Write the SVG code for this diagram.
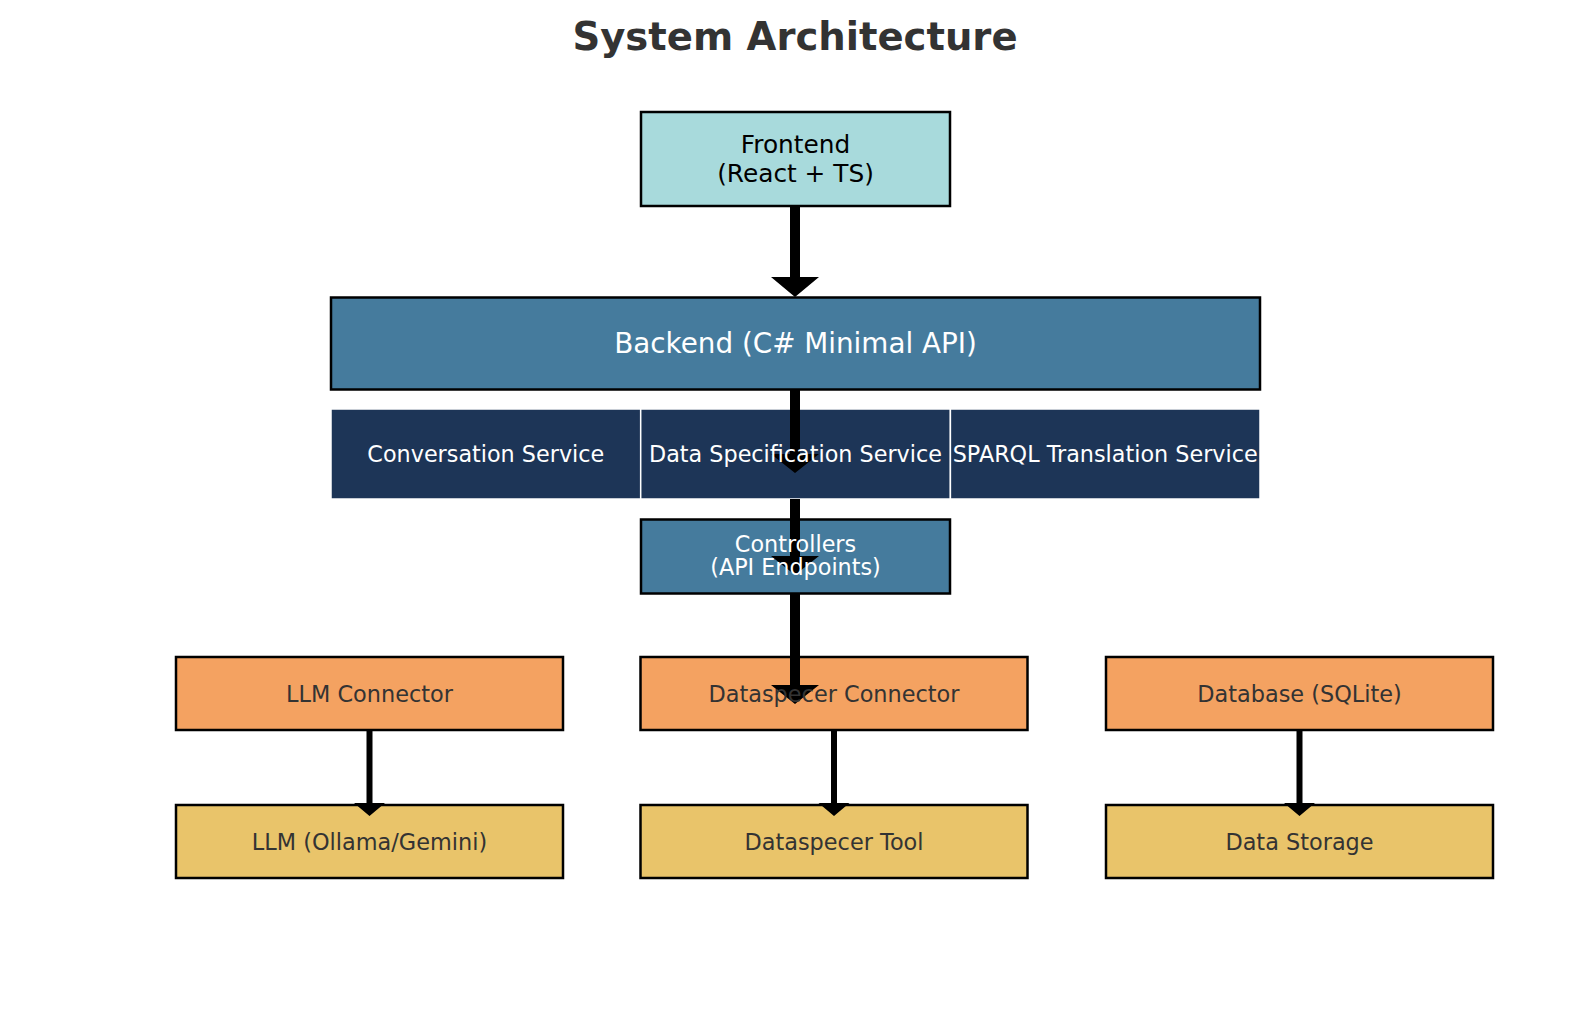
<svg xmlns="http://www.w3.org/2000/svg" width="1589" height="1010" viewBox="0 0 1589 1010">
<style>
.box{stroke:#000;stroke-width:2.5}
.svc{fill:#1d3557;stroke:#fff;stroke-width:1.5}
.front{fill:#a8dadc}
.back{fill:#457b9d}
.orange{fill:#f4a261}
.yellow{fill:#e9c46a}
.arrow{fill:#000;stroke:none}
text{font-family:"DejaVu Sans","Noto Sans",sans-serif;text-anchor:middle}
.title{font-size:38.6px;font-weight:bold;fill:#333}
.dark{fill:#333;font-size:22.4px}
.white{fill:#fff}
</style>
<rect width="1589" height="1010" fill="#fff"/>
<text class="title" x="795" y="50">System Architecture</text>
<g id="frontend"><rect class="box front" x="641" y="112" width="309" height="94"/></g>
<g id="backend"><rect class="box back" x="331" y="297.5" width="929" height="92"/></g>
<g id="conversation-service"><rect class="svc" x="331" y="409" width="309.7" height="90"/></g>
<g id="data-specification-service"><rect class="svc" x="640.7" y="409" width="309.7" height="90"/></g>
<g id="sparql-translation-service"><rect class="svc" x="950.4" y="409" width="309.6" height="90"/></g>
<g id="controllers"><rect class="box back" x="641" y="519.5" width="309" height="74"/></g>
<g id="llm-connector"><rect class="box orange" x="176" y="657" width="387" height="73"/></g>
<g id="dataspecer-connector"><rect class="box orange" x="640.5" y="657" width="387" height="73"/></g>
<g id="database"><rect class="box orange" x="1106" y="657" width="387" height="73"/></g>
<g id="llm"><rect class="box yellow" x="176" y="805" width="387" height="73"/></g>
<g id="dataspecer-tool"><rect class="box yellow" x="640.5" y="805" width="387" height="73"/></g>
<g id="data-storage"><rect class="box yellow" x="1106" y="805" width="387" height="73"/></g>
<g id="connectors">
<polygon class="arrow" points="790,206 800,206 800,277 819,277 795,297 771,277 790,277"/>
<polygon class="arrow" points="790,389.5 800,389.5 800,454 819,454 795,473 771,454 790,454"/>
<polygon class="arrow" points="790,499 800,499 800,556 819,556 795,575 771,556 790,556"/>
<polygon class="arrow" points="790,593.5 800,593.5 800,685 819,685 795,704 771,685 790,685"/>
<polygon class="arrow" points="366.5,730 372.5,730 372.5,803 385,803 369.5,816 354,803 366.5,803"/>
<polygon class="arrow" points="831,730 837,730 837,803 849.5,803 834,816 818.5,803 831,803"/>
<polygon class="arrow" points="1296.5,730 1302.5,730 1302.5,803 1315,803 1299.5,816 1284,803 1296.5,803"/>
</g>
<g id="labels">
<text x="795.5" y="153" font-size="24.8" fill="#000">Frontend</text>
<text x="795.5" y="181.5" font-size="24.8" fill="#000">(React + TS)</text>
<text class="white" x="795.5" y="353" font-size="27.8">Backend (C# Minimal API)</text>
<text class="white" x="485.8" y="461.8" font-size="22.3">Conversation Service</text>
<text class="white" x="795.5" y="461.8" font-size="22.3">Data Specification Service</text>
<text class="white" x="1105.2" y="461.8" font-size="22.3">SPARQL Translation Service</text>
<text class="white" x="795.5" y="551.5" font-size="22.3">Controllers</text>
<text class="white" x="795.5" y="575" font-size="22.3">(API Endpoints)</text>
<text class="dark" x="369.5" y="701.8">LLM Connector</text>
<text class="dark" x="834" y="701.8">Dataspecer Connector</text>
<text class="dark" x="1299.5" y="701.8">Database (SQLite)</text>
<text class="dark" x="369.5" y="849.8">LLM (Ollama/Gemini)</text>
<text class="dark" x="834" y="849.8">Dataspecer Tool</text>
<text class="dark" x="1299.5" y="849.8">Data Storage</text>
</g>
</svg>
